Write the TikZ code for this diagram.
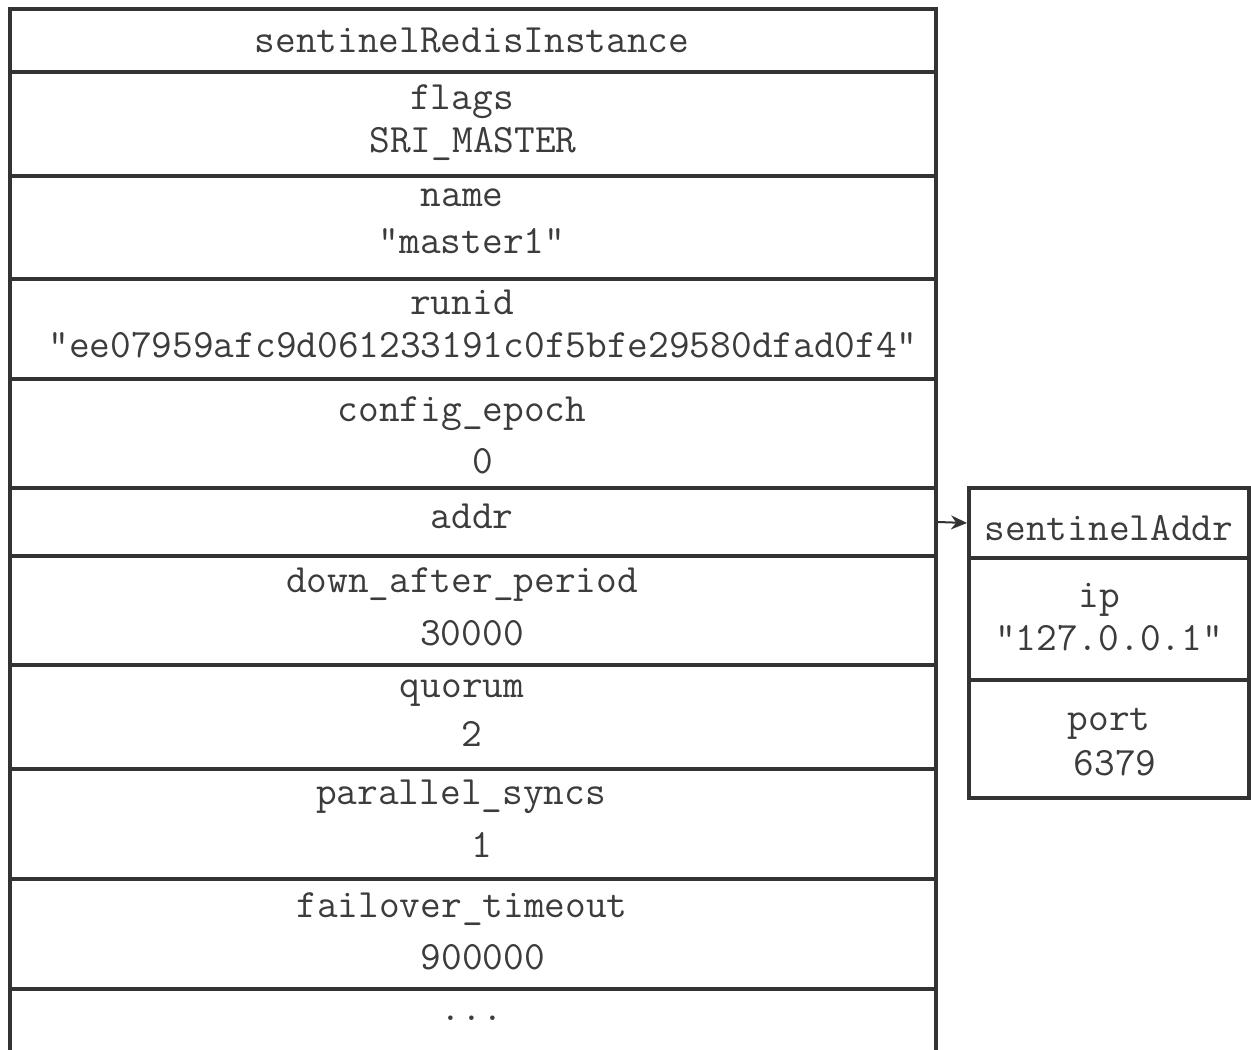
\documentclass[tikz,border=0pt]{standalone}
\usetikzlibrary{arrows.meta}
\definecolor{boxline}{HTML}{333333}
\definecolor{boxtext}{HTML}{3C3C3C}
\tikzset{
  cell/.style={draw=boxline, line width=2pt, inner sep=0pt, minimum width=463pt},
  addrcell/.style={draw=boxline, line width=2pt, inner sep=0pt, minimum width=140pt},
  fieldtxt/.style={text=boxtext, inner sep=0pt, anchor=base, font=\fontsize{20.1}{24}\selectfont\ttfamily},
}
\begin{document}
\begin{tikzpicture}[x=0.5pt, y=-0.5pt]
    \path[use as bounding box, clip] (0,0) rectangle (1251,1049);
    \fill[white] (0,0) rectangle (1251,1049);
    % sentinelRedisInstance structure
    \node (title) [cell, minimum height=31.5pt] at (473,40.5) {};
    \node (flags) [cell, minimum height=52pt] at (473,124) {};
    \node (name) [cell, minimum height=51.5pt] at (473,227.5) {};
    \node (runid) [cell, minimum height=50pt] at (473,329) {};
    \node (epoch) [cell, minimum height=54.5pt] at (473,433.5) {};
    \node (addr) [cell, minimum height=34pt] at (473,522) {};
    \node (downafter) [cell, minimum height=54.5pt] at (473,610.5) {};
    \node (quorum) [cell, minimum height=52pt] at (473,717) {};
    \node (syncs) [cell, minimum height=55pt] at (473,824) {};
    \node (failover) [cell, minimum height=55pt] at (473,934) {};
    \node (more) [cell, minimum height=60.5pt] at (473,1049.5) {};
    % sentinelAddr structure
    \node (addrhead) [addrcell, minimum height=35pt] at (1109,523) {};
    \node (ip) [addrcell, minimum height=61pt] at (1109,619) {};
    \node (port) [addrcell, minimum height=59pt] at (1109,739) {};
    % field texts
    \node (titletxt) [fieldtxt] at (472,52) {sentinelRedisInstance};
    \node (flagskey) [fieldtxt] at (462,109) {flags};
    \node (flagsval) [fieldtxt] at (473,152) {SRI\_MASTER};
    \node (namekey) [fieldtxt] at (462,206) {name};
    \node (nameval) [fieldtxt] at (472,253) {"master1"};
    \node (runidkey) [fieldtxt] at (462,314) {runid};
    \node (runidval) [fieldtxt] at (483,357) {"ee07959afc9d061233191c0f5bfe29580dfad0f4"};
    \node (epochkey) [fieldtxt] at (462,421) {config\_epoch};
    \node (epochval) [fieldtxt] at (483,473) {0};
    \node (addrkey) [fieldtxt] at (472,528) {addr};
    \node (downkey) [fieldtxt] at (462,592) {down\_after\_period};
    \node (downval) [fieldtxt] at (472,645) {30000};
    \node (quorumkey) [fieldtxt] at (462,697) {quorum};
    \node (quorumval) [fieldtxt] at (472,746) {2};
    \node (syncskey) [fieldtxt] at (461,804) {parallel\_syncs};
    \node (syncsval) [fieldtxt] at (482,857) {1};
    \node (failkey) [fieldtxt] at (462,917) {failover\_timeout};
    \node (failval) [fieldtxt] at (483,969) {900000};
    \node (moretxt) [fieldtxt] at (472,1020) {...};
    \node (addrtitle) [fieldtxt] at (1109,540) {sentinelAddr};
    \node (ipkey) [fieldtxt] at (1099,607) {ip};
    \node (ipval) [fieldtxt] at (1109,650) {"127.0.0.1"};
    \node (portkey) [fieldtxt] at (1109,730) {port};
    \node (portval) [fieldtxt] at (1115,775) {6379};
    % pointer
    \draw[boxline, line width=1pt, -{Stealth[length=8pt, width=7pt]}] (addr.east) -- (addrhead.west);
\end{tikzpicture}
\end{document}
